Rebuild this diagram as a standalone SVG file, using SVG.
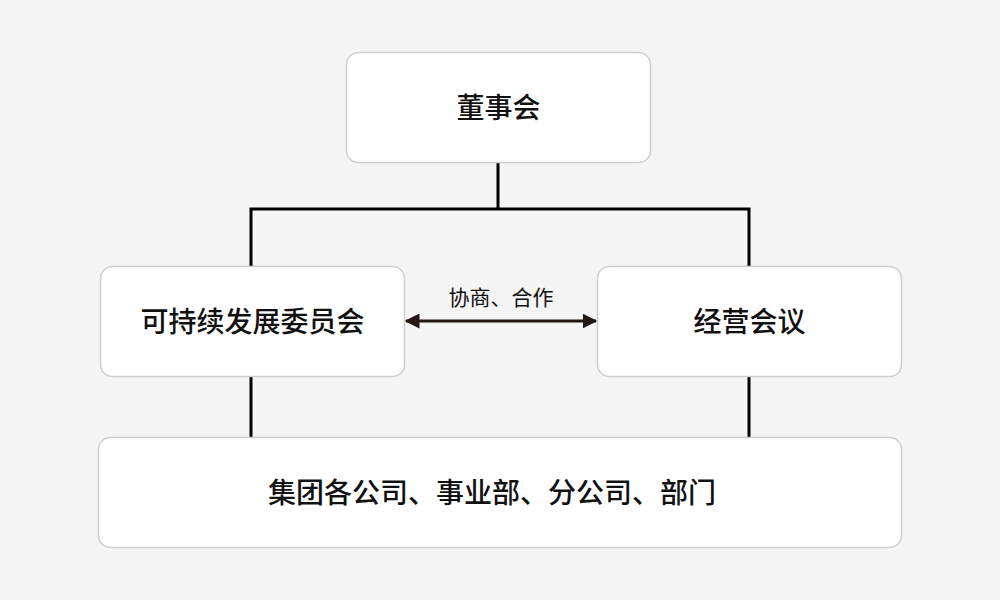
<svg xmlns="http://www.w3.org/2000/svg" width="1000" height="600" viewBox="0 0 1000 600">
<defs>
<style>
.node rect{fill:#fff;stroke:#cfcfcf;stroke-width:1.5}
.node text{font-family:"Noto Sans CJK SC","Noto Sans",sans-serif;font-size:28px;font-weight:500;fill:#111;text-anchor:middle;dominant-baseline:central}
.conn{fill:none;stroke:#000;stroke-width:3}
.lbl{font-family:"Noto Sans CJK SC","Noto Sans",sans-serif;font-size:21px;fill:#111;text-anchor:middle;dominant-baseline:central}
</style>
<marker id="ah" viewBox="0 0 10 10" refX="9" refY="5" markerWidth="5" markerHeight="5" orient="auto-start-reverse" markerUnits="strokeWidth">
<path d="M0,0 L10,5 L0,10 Z" fill="#231815"/>
</marker>
</defs>
<rect width="1000" height="600" fill="#f5f5f5"/>
<g id="connectors">
<path class="conn" d="M498,163 V209 M251,209 H749 M251,207.5 V266 M749,207.5 V266"/>
<path class="conn" d="M251,376 V437 M749,376 V437"/>
<line x1="406" y1="321" x2="596" y2="321" stroke="#231815" stroke-width="3" marker-start="url(#ah)" marker-end="url(#ah)"/>
<text class="lbl" x="501" y="296">协商、合作</text>
</g>
<g id="board" class="node">
<rect x="346.5" y="52.5" width="304" height="110" rx="12"/>
<text x="498.5" y="106">董事会</text>
</g>
<g id="sustainability" class="node">
<rect x="100.5" y="266.5" width="304" height="110" rx="12"/>
<text x="252.5" y="320">可持续发展委员会</text>
</g>
<g id="management" class="node">
<rect x="597.5" y="266.5" width="304" height="110" rx="12"/>
<text x="749.5" y="320">经营会议</text>
</g>
<g id="units" class="node">
<rect x="98.5" y="437.5" width="803" height="110" rx="12"/>
<text x="492" y="491">集团各公司、事业部、分公司、部门</text>
</g>
</svg>
